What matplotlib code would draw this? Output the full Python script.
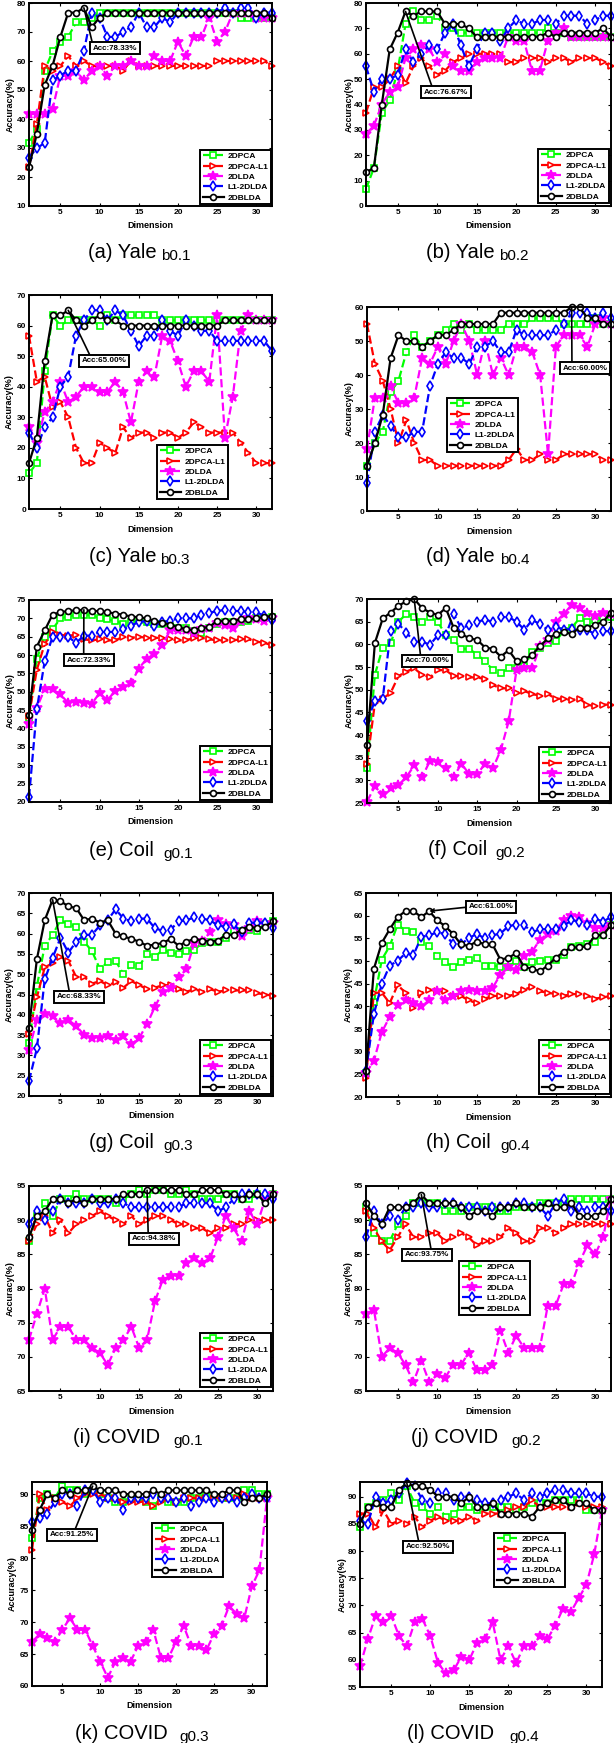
import numpy as np
import matplotlib
matplotlib.use('Agg')
import matplotlib.pyplot as plt

plt.rcParams['font.family'] = ['Liberation Sans', 'DejaVu Sans']
plt.rcParams['font.weight'] = 'bold'

dims = list(range(1, 33))
methods = ['2DPCA', '2DPCA-L1', '2DLDA', 'L1-2DLDA', '2DBLDA']

# (a) Yale b0.1
yale1_pca = [31.7, 36.7, 56.7, 63.3, 66.7, 68.3, 73.3, 73.3, 75.0, 76.7, 76.7, 76.7, 76.7, 76.7, 76.7, 76.7,
             76.7, 76.7, 76.7, 76.7, 76.7, 76.7, 76.7, 76.7, 76.7, 76.7, 76.7, 75.0, 75.0, 75.0, 75.0, 75.0]
yale1_pcal1 = [23.3, 38.3, 58.3, 56.7, 58.3, 61.7, 58.3, 60.0, 58.3, 58.3, 58.3, 58.3, 56.7, 60.0, 58.3, 58.3,
               58.3, 58.3, 58.3, 58.3, 58.3, 58.3, 58.3, 58.3, 60.0, 60.0, 60.0, 60.0, 60.0, 60.0, 60.0, 58.3]
yale1_lda = [41.7, 41.7, 41.7, 43.3, 55.0, 55.0, 56.7, 53.3, 56.7, 58.3, 55.0, 58.3, 58.3, 60.0, 58.3, 58.3,
             61.7, 60.0, 60.0, 66.7, 61.7, 68.3, 68.3, 75.0, 66.7, 70.0, 76.7, 76.7, 76.7, 75.0, 75.0, 75.0]
yale1_l1lda = [26.7, 30.0, 31.7, 53.3, 55.0, 56.7, 56.7, 63.3, 76.7, 75.0, 68.3, 68.3, 70.0, 71.7, 76.7, 71.7,
               71.7, 75.0, 73.3, 76.7, 76.7, 76.7, 76.7, 76.7, 76.7, 78.3, 76.7, 78.3, 78.3, 75.0, 76.7, 76.7]
yale1_blda = [23.3, 35.0, 51.7, 58.3, 68.3, 76.67, 76.67, 78.33, 71.7, 75.0, 76.67, 76.67, 76.67, 76.67, 76.67, 76.67,
              76.67, 76.67, 76.67, 76.67, 76.67, 76.67, 76.67, 76.67, 76.67, 76.67, 76.67, 76.67, 76.67, 76.67, 76.67, 75.0]

# (b) Yale b0.2
yale2_pca = [6.7, 15.0, 36.7, 41.7, 53.3, 71.7, 76.7, 73.3, 73.3, 75.0, 70.0, 70.0, 68.3, 68.3, 68.3, 68.3,
             68.3, 68.3, 68.3, 68.3, 68.3, 68.3, 68.3, 70.0, 68.3, 68.3, 66.7, 66.7, 66.7, 66.7, 66.7, 66.7]
yale2_pcal1 = [36.7, 46.7, 46.7, 50.0, 55.0, 48.3, 55.0, 58.3, 55.0, 51.7, 53.3, 56.7, 58.3, 60.0, 60.0, 60.0,
               60.0, 60.0, 56.7, 56.7, 58.3, 58.3, 58.3, 56.7, 58.3, 58.3, 56.7, 58.3, 58.3, 58.3, 56.7, 55.0]
yale2_lda = [28.3, 31.7, 40.0, 45.0, 46.7, 58.3, 61.7, 63.3, 61.7, 56.7, 60.0, 55.0, 53.3, 53.3, 56.7, 58.3,
             58.3, 58.3, 66.7, 65.0, 65.0, 53.3, 53.3, 65.0, 68.3, 70.0, 66.7, 66.7, 66.7, 66.7, 66.7, 66.7]
yale2_l1lda = [55.0, 45.0, 50.0, 50.0, 51.7, 61.7, 56.7, 60.0, 63.3, 61.7, 68.3, 71.7, 63.3, 55.0, 61.7, 68.3,
               68.3, 65.0, 70.0, 73.3, 71.7, 71.7, 73.3, 73.3, 71.7, 75.0, 75.0, 75.0, 71.7, 73.3, 75.0, 75.0]
yale2_blda = [13.3, 15.0, 40.0, 61.7, 68.3, 76.67, 75.0, 76.67, 76.67, 76.67, 71.7, 71.7, 71.7, 70.0, 66.7, 66.7,
              66.7, 66.7, 66.7, 66.7, 66.7, 66.7, 66.7, 68.3, 66.7, 68.3, 68.3, 68.3, 68.3, 68.3, 70.0, 66.7]

# (c) Yale b0.3
yale3_pca = [11.7, 15.0, 45.0, 63.3, 60.0, 61.7, 61.7, 61.7, 61.7, 60.0, 63.3, 61.7, 63.3, 63.3, 63.3, 63.3,
             63.3, 61.7, 61.7, 61.7, 61.7, 61.7, 61.7, 61.7, 61.7, 61.7, 61.7, 61.7, 61.7, 61.7, 61.7, 61.7]
yale3_pcal1 = [56.7, 41.7, 43.3, 33.3, 35.0, 30.0, 20.0, 15.0, 15.0, 21.7, 20.0, 18.3, 26.7, 23.3, 25.0, 25.0,
               23.3, 25.0, 25.0, 23.3, 25.0, 28.3, 26.7, 25.0, 25.0, 25.0, 25.0, 21.7, 18.3, 15.0, 15.0, 15.0]
yale3_lda = [26.7, 21.7, 31.7, 35.0, 41.7, 35.0, 36.7, 40.0, 40.0, 38.3, 38.3, 41.7, 38.3, 28.3, 41.7, 45.0,
             43.3, 56.7, 55.0, 48.3, 40.0, 45.0, 45.0, 41.7, 63.3, 23.3, 36.7, 58.3, 63.3, 61.7, 61.7, 61.7]
yale3_l1lda = [25.0, 20.0, 26.7, 30.0, 40.0, 43.3, 56.7, 61.7, 65.0, 65.0, 61.7, 65.0, 63.3, 58.3, 53.3, 56.7,
               56.7, 61.7, 58.3, 56.7, 61.7, 60.0, 58.3, 58.3, 55.0, 55.0, 55.0, 55.0, 55.0, 55.0, 55.0, 51.7]
yale3_blda = [15.0, 23.3, 48.3, 63.3, 63.3, 65.0, 61.7, 60.0, 61.7, 63.3, 61.7, 61.7, 60.0, 60.0, 60.0, 60.0,
              60.0, 60.0, 60.0, 60.0, 60.0, 60.0, 60.0, 60.0, 60.0, 61.7, 61.7, 61.7, 61.7, 61.7, 61.7, 61.7]

# (d) Yale b0.4
yale4_pca = [13.3, 20.0, 23.3, 35.0, 38.3, 46.7, 51.7, 48.3, 50.0, 51.7, 53.3, 55.0, 53.3, 55.0, 53.3, 53.3,
             53.3, 53.3, 55.0, 55.0, 55.0, 56.7, 56.7, 56.7, 56.7, 55.0, 55.0, 55.0, 55.0, 56.7, 55.0, 55.0]
yale4_pcal1 = [55.0, 43.3, 38.3, 30.0, 20.0, 26.7, 20.0, 15.0, 15.0, 13.3, 13.3, 13.3, 13.3, 13.3, 13.3, 13.3,
               13.3, 13.3, 15.0, 18.3, 15.0, 15.0, 16.7, 15.0, 15.0, 16.7, 16.7, 16.7, 16.7, 16.7, 15.0, 15.0]
yale4_lda = [18.3, 33.3, 33.3, 36.7, 31.7, 31.7, 33.3, 45.0, 43.3, 48.3, 43.3, 50.0, 55.0, 50.0, 40.0, 50.0,
             40.0, 45.0, 40.0, 48.3, 48.3, 46.7, 40.0, 16.7, 48.3, 51.7, 51.7, 51.7, 48.3, 55.0, 56.7, 55.0]
yale4_l1lda = [8.3, 23.3, 28.3, 25.0, 21.7, 21.7, 23.3, 23.3, 36.7, 43.3, 46.7, 45.0, 45.0, 43.3, 48.3, 48.3,
               50.0, 46.7, 46.7, 53.3, 51.7, 51.7, 51.7, 51.7, 53.3, 55.0, 58.3, 58.3, 58.3, 56.7, 58.3, 56.7]
yale4_blda = [13.3, 20.0, 28.3, 45.0, 51.7, 50.0, 50.0, 48.3, 50.0, 51.7, 51.7, 53.3, 55.0, 55.0, 55.0, 55.0,
              55.0, 58.3, 58.3, 58.3, 58.3, 58.3, 58.3, 58.3, 58.3, 58.3, 60.0, 60.0, 56.7, 56.7, 55.0, 55.0]

# (e) Coil g0.1
coil1_pca = [43.0, 59.0, 65.0, 67.0, 70.0, 70.5, 71.0, 71.0, 71.0, 70.0, 69.7, 69.3, 68.5, 69.0, 69.5, 69.0,
             68.5, 68.5, 68.0, 67.5, 67.3, 66.5, 66.0, 67.3, 68.5, 69.0, 69.0, 69.0, 69.3, 70.0, 70.2, 70.5]
coil1_pcal1 = [43.5, 56.0, 63.0, 66.3, 65.5, 65.3, 65.5, 64.3, 64.0, 64.3, 64.0, 64.0, 65.0, 64.7, 65.0, 64.7,
               64.7, 64.7, 64.3, 64.0, 64.0, 64.7, 64.7, 64.3, 64.0, 64.0, 64.0, 64.3, 64.3, 63.7, 63.3, 62.7]
coil1_lda = [41.3, 45.7, 50.7, 50.7, 49.3, 47.0, 47.3, 47.0, 46.7, 49.7, 47.7, 50.3, 51.3, 52.3, 56.3, 59.0,
             60.3, 62.7, 66.7, 66.7, 66.7, 66.0, 67.0, 67.3, 68.7, 68.3, 67.3, 69.3, 70.0, 69.7, 69.3, 70.0]
coil1_l1lda = [21.3, 45.3, 58.3, 65.0, 65.0, 65.0, 63.3, 65.3, 65.3, 66.3, 66.3, 66.3, 67.0, 68.0, 69.0, 69.3,
               68.0, 69.0, 69.3, 70.0, 70.0, 70.0, 71.0, 71.5, 72.0, 72.3, 72.0, 72.0, 71.7, 71.7, 70.7, 69.5]
coil1_blda = [43.7, 62.3, 66.7, 71.0, 71.7, 72.0, 72.2, 72.33, 72.0, 72.0, 71.7, 71.3, 71.0, 70.5, 70.3, 70.0,
              69.3, 68.8, 68.3, 67.7, 67.0, 66.8, 67.3, 67.7, 69.3, 69.3, 69.3, 69.7, 69.7, 70.0, 70.3, 70.7]

# (f) Coil g0.2
coil2_pca = [32.7, 53.3, 59.3, 60.3, 65.0, 66.7, 66.0, 65.0, 66.0, 65.0, 62.0, 61.0, 59.0, 59.0, 57.7, 56.3,
             54.3, 53.7, 54.7, 54.7, 55.3, 58.3, 59.3, 60.3, 60.7, 63.0, 63.7, 65.7, 65.0, 65.3, 65.7, 66.0]
coil2_pcal1 = [33.7, 47.0, 48.0, 49.3, 53.0, 54.0, 54.7, 53.3, 52.7, 54.3, 54.3, 53.0, 53.0, 52.7, 52.7, 52.3,
               51.0, 50.3, 50.3, 49.3, 49.7, 49.0, 48.7, 49.0, 48.0, 48.0, 47.7, 48.0, 46.7, 46.3, 46.7, 46.7]
coil2_lda = [25.3, 28.7, 27.0, 28.3, 29.0, 30.7, 33.3, 30.7, 34.3, 34.0, 32.7, 30.7, 33.7, 31.3, 31.3, 33.7,
             32.7, 36.7, 43.0, 54.3, 54.7, 54.7, 59.7, 61.0, 65.0, 66.7, 68.7, 68.0, 67.0, 66.3, 67.0, 66.7]
coil2_l1lda = [43.0, 47.5, 48.0, 63.0, 64.5, 62.6, 60.6, 60.6, 59.9, 62.0, 62.0, 66.7, 63.5, 64.3, 65.0, 65.4,
               65.0, 66.0, 66.0, 65.0, 63.2, 65.4, 64.4, 63.2, 63.9, 63.2, 63.4, 63.2, 63.2, 62.2, 62.9, 62.9]
coil2_blda = [37.7, 60.3, 65.7, 67.0, 68.5, 69.5, 70.0, 68.0, 67.0, 66.5, 68.0, 63.7, 62.3, 61.3, 61.0, 59.3,
              59.0, 57.3, 58.7, 56.3, 56.7, 57.7, 59.7, 61.3, 62.3, 62.7, 62.3, 63.7, 63.7, 64.3, 65.0, 67.0]

# (g) Coil g0.3
coil3_pca = [33.0, 47.0, 57.0, 59.7, 63.3, 62.3, 61.7, 58.0, 55.7, 51.3, 53.0, 53.3, 50.0, 52.3, 52.0, 55.0,
             54.3, 56.0, 55.3, 55.0, 55.7, 56.0, 57.7, 58.0, 58.0, 59.0, 60.7, 60.7, 61.0, 60.7, 62.3, 63.0]
coil3_pcal1 = [35.3, 44.3, 51.7, 52.7, 54.3, 53.3, 49.3, 49.3, 47.7, 48.3, 47.3, 48.0, 46.7, 48.3, 47.3, 46.3,
               46.7, 47.3, 47.3, 46.3, 45.7, 46.3, 45.7, 46.3, 45.7, 46.0, 46.0, 46.0, 46.0, 45.3, 45.0, 44.7]
coil3_lda = [31.3, 38.7, 40.3, 39.7, 38.0, 38.7, 37.3, 35.0, 34.3, 34.3, 34.7, 33.7, 34.7, 32.7, 34.3, 37.7,
             42.0, 45.7, 46.7, 49.3, 51.3, 57.7, 58.3, 60.3, 63.3, 62.3, 62.0, 59.3, 61.3, 63.0, 62.3, 62.7]
coil3_l1lda = [23.7, 31.7, 48.7, 54.0, 59.0, 55.3, 58.0, 59.7, 59.7, 62.0, 63.3, 66.0, 63.7, 63.0, 63.7, 63.7,
               61.3, 60.7, 61.0, 63.0, 63.3, 64.0, 63.7, 63.3, 62.0, 61.7, 62.3, 60.3, 62.7, 62.7, 62.7, 61.3]
coil3_blda = [36.7, 53.7, 63.3, 68.33, 68.0, 66.7, 66.3, 63.3, 63.7, 62.7, 63.3, 60.0, 59.3, 58.7, 58.0, 57.0,
              57.3, 57.7, 58.7, 57.0, 58.0, 58.7, 58.3, 58.0, 58.3, 59.7, 59.7, 61.0, 61.7, 61.3, 61.7, 63.0]

# (h) Coil g0.4
coil4_pca = [25.3, 41.0, 50.3, 53.3, 58.0, 56.7, 56.3, 54.3, 53.3, 51.0, 49.7, 48.7, 49.7, 50.3, 50.7, 49.0,
             49.0, 48.7, 48.7, 50.0, 48.7, 49.7, 50.0, 50.3, 50.3, 51.3, 53.0, 53.3, 53.7, 54.3, 55.7, 58.0]
coil4_pcal1 = [24.3, 43.0, 43.0, 40.7, 44.7, 43.0, 39.7, 43.0, 43.7, 43.3, 43.3, 42.3, 42.3, 41.3, 40.7, 41.7,
               42.3, 42.3, 42.3, 42.7, 43.7, 44.3, 43.3, 43.0, 42.7, 42.3, 42.7, 42.7, 42.3, 41.7, 42.0, 42.3]
coil4_lda = [25.3, 28.0, 34.3, 37.7, 40.3, 41.3, 40.7, 40.0, 41.3, 43.3, 41.3, 42.3, 43.3, 43.7, 43.3, 43.3,
             44.0, 47.0, 48.7, 48.0, 51.0, 52.0, 54.7, 56.0, 56.7, 59.0, 60.0, 59.7, 58.3, 57.3, 57.3, 58.0]
coil4_l1lda = [25.7, 38.3, 45.0, 49.0, 50.0, 51.7, 51.3, 55.3, 55.7, 56.3, 56.0, 53.7, 53.7, 55.0, 56.0, 55.0,
               55.7, 56.0, 57.7, 58.0, 58.0, 56.3, 57.0, 57.0, 57.0, 57.7, 59.0, 58.7, 58.0, 59.3, 58.7, 59.7]
coil4_blda = [25.7, 48.3, 54.0, 57.0, 59.7, 61.0, 61.0, 59.7, 61.0, 59.0, 57.7, 56.0, 53.7, 53.3, 54.3, 53.7,
              53.7, 50.3, 50.7, 51.7, 48.7, 48.3, 47.7, 49.0, 50.7, 52.0, 53.0, 53.0, 53.3, 55.7, 55.7, 58.0]

# (i) COVID g0.1
covid1_pca = [87.0, 90.6, 92.5, 90.6, 93.1, 93.1, 93.8, 93.1, 93.1, 93.1, 93.1, 92.5, 93.1, 93.8, 94.4, 93.8,
              94.4, 94.4, 93.8, 93.8, 94.4, 93.8, 93.1, 93.1, 93.1, 93.8, 93.8, 93.1, 93.1, 93.8, 93.1, 93.8]
covid1_pcal1 = [86.9, 89.4, 90.6, 88.1, 90.0, 88.1, 89.4, 90.0, 90.6, 91.3, 90.6, 90.0, 89.4, 90.6, 89.4, 90.0,
                90.6, 90.6, 90.0, 89.4, 89.4, 88.8, 88.8, 88.1, 88.8, 88.8, 89.4, 89.4, 90.0, 90.0, 90.0, 90.0]
covid1_lda = [72.5, 76.3, 80.0, 72.5, 74.4, 74.4, 72.5, 72.5, 71.3, 70.6, 68.8, 71.3, 72.5, 74.4, 71.3, 72.5,
              78.1, 81.3, 81.9, 81.9, 83.8, 84.4, 83.8, 84.4, 87.5, 90.6, 88.8, 86.9, 91.3, 89.4, 93.1, 93.8]
covid1_l1lda = [89.4, 91.3, 90.0, 91.3, 93.1, 92.5, 92.5, 92.5, 93.1, 92.5, 92.5, 93.1, 92.5, 91.9, 91.9, 91.9,
                91.9, 91.9, 91.9, 91.9, 92.5, 92.5, 92.5, 92.5, 91.3, 91.9, 93.1, 93.8, 93.8, 93.8, 93.8, 93.1]
covid1_blda = [87.5, 90.6, 91.3, 93.1, 93.1, 92.5, 93.1, 92.5, 93.1, 93.1, 93.1, 93.1, 93.8, 93.8, 93.8, 94.38,
               94.38, 94.38, 94.38, 94.38, 93.8, 93.8, 94.38, 94.38, 94.38, 93.8, 93.8, 93.1, 93.8, 93.8, 92.5, 93.8]

# (j) COVID g0.2
covid2_pca = [91.9, 88.1, 86.9, 86.9, 89.4, 90.6, 92.5, 92.5, 92.5, 92.5, 91.3, 91.3, 91.3, 91.9, 91.9, 91.9,
              91.9, 91.3, 91.3, 91.9, 91.9, 91.9, 92.5, 92.5, 92.5, 92.5, 93.1, 93.1, 93.1, 93.1, 93.1, 93.1]
covid2_pcal1 = [91.3, 88.8, 86.9, 85.6, 87.5, 89.4, 87.5, 87.5, 88.1, 88.1, 86.9, 87.5, 88.1, 87.5, 86.3, 86.9,
                86.9, 87.5, 88.8, 88.1, 86.9, 86.9, 88.8, 88.8, 88.1, 88.8, 89.4, 89.4, 89.4, 89.4, 89.4, 89.4]
covid2_lda = [76.3, 76.9, 70.0, 71.3, 70.6, 68.8, 66.3, 69.4, 66.3, 67.5, 66.9, 68.8, 68.8, 70.6, 68.1, 68.1,
              68.8, 73.8, 70.6, 73.1, 71.3, 71.3, 71.3, 77.5, 77.5, 80.6, 80.6, 83.8, 86.3, 85.0, 87.5, 93.1]
covid2_l1lda = [87.5, 91.3, 89.4, 90.6, 90.0, 91.9, 91.9, 92.5, 91.9, 91.9, 92.5, 92.5, 91.9, 91.9, 91.9, 91.3,
                91.9, 91.9, 91.9, 92.5, 92.5, 91.9, 91.9, 90.6, 92.5, 93.1, 91.3, 91.9, 91.3, 91.9, 91.9, 91.3]
covid2_blda = [92.5, 90.6, 89.4, 91.9, 91.9, 91.9, 92.5, 93.75, 92.5, 92.5, 92.5, 92.5, 91.9, 90.6, 91.3, 91.3,
               90.6, 91.9, 91.9, 92.5, 91.9, 91.9, 91.9, 92.5, 91.9, 91.9, 92.5, 90.6, 90.6, 90.6, 91.3, 93.1]

# (k) COVID g0.3
covid3_pca = [83.1, 89.4, 90.0, 89.4, 91.3, 90.6, 90.6, 90.0, 90.6, 90.0, 89.4, 88.8, 88.8, 89.4, 89.4, 88.8,
              88.1, 89.4, 88.8, 88.8, 88.8, 89.4, 89.4, 90.0, 89.4, 89.4, 89.4, 89.4, 90.6, 90.6, 90.0, 90.0]
covid3_pcal1 = [81.3, 90.0, 87.5, 89.4, 88.8, 88.1, 89.4, 90.0, 90.0, 90.0, 89.4, 89.4, 88.8, 88.8, 88.8, 88.8,
                88.1, 88.8, 89.4, 88.8, 89.4, 89.4, 89.4, 89.4, 89.4, 89.4, 89.4, 89.4, 90.0, 89.4, 89.4, 89.4]
covid3_lda = [66.9, 68.1, 67.5, 66.9, 68.8, 70.6, 68.8, 68.8, 66.3, 63.8, 61.3, 63.8, 64.4, 63.8, 66.3, 66.9,
              68.8, 64.4, 64.4, 66.9, 69.4, 66.3, 66.3, 65.6, 68.1, 69.4, 72.5, 71.3, 70.6, 75.6, 78.1, 89.4]
covid3_l1lda = [85.6, 86.3, 86.9, 88.8, 90.0, 90.0, 88.1, 90.6, 90.6, 88.8, 89.4, 89.4, 87.5, 89.4, 89.4, 89.4,
                90.0, 89.4, 89.4, 88.8, 89.4, 88.1, 88.8, 89.4, 88.8, 89.4, 89.4, 88.8, 89.4, 90.0, 89.4, 89.4]
covid3_blda = [84.4, 87.5, 90.0, 89.4, 90.6, 90.0, 90.6, 90.6, 91.25, 90.6, 90.6, 90.6, 90.0, 90.0, 90.0, 90.0,
               90.6, 90.0, 90.6, 90.6, 90.6, 90.6, 90.6, 90.6, 90.0, 90.0, 90.6, 90.6, 88.8, 89.4, 89.4, 90.0]

# (l) COVID g0.4
covid4_pca = [84.4, 88.1, 88.8, 89.4, 90.6, 89.4, 91.9, 88.8, 88.1, 86.9, 88.1, 86.3, 86.9, 88.1, 88.1, 87.5,
              88.1, 88.1, 88.1, 88.1, 87.5, 88.1, 88.8, 88.8, 88.8, 89.4, 89.4, 89.4, 89.4, 87.5, 87.5, 87.5]
covid4_pcal1 = [86.9, 86.9, 84.4, 87.5, 85.0, 85.6, 85.0, 86.3, 84.4, 85.6, 86.3, 85.6, 85.6, 85.6, 86.3, 85.6,
                86.9, 86.9, 86.9, 87.5, 88.1, 88.1, 89.4, 88.1, 88.1, 88.1, 88.1, 88.1, 88.8, 88.1, 88.1, 88.1]
covid4_lda = [58.8, 63.8, 68.1, 66.9, 68.1, 64.4, 62.5, 66.9, 67.5, 64.4, 59.4, 57.5, 58.1, 60.6, 60.0, 63.1,
              63.8, 66.9, 60.0, 62.5, 59.4, 62.5, 62.5, 64.4, 63.8, 66.3, 69.4, 68.8, 71.3, 73.8, 79.4, 87.5]
covid4_l1lda = [85.6, 85.0, 90.0, 88.8, 89.4, 90.6, 92.5, 91.9, 89.4, 88.8, 90.6, 90.6, 89.4, 90.0, 90.0, 89.4,
                88.8, 88.8, 89.4, 90.0, 90.6, 89.4, 90.6, 90.0, 90.6, 91.3, 91.3, 90.6, 90.6, 90.6, 90.0, 90.0]
covid4_blda = [85.0, 88.1, 88.8, 88.1, 88.1, 91.3, 92.5, 91.9, 91.9, 91.3, 90.0, 90.0, 90.0, 88.8, 90.0, 88.1,
               88.1, 88.8, 86.9, 86.9, 86.9, 86.9, 86.3, 88.1, 88.8, 89.4, 89.4, 88.1, 88.8, 88.8, 87.5, 87.5]

peak_dims = [8, 6, 6, 27, 8, 7, 4, 9, 16, 8, 9, 7]
peak_text = ['78.33', '76.67', '65.00', '60.00', '72.33', '70.00', '68.33', '61.00', '94.38', '93.75', '91.25', '92.50']
cap_main = ['(a) Yale', '(b) Yale', '(c) Yale', '(d) Yale', '(e) Coil', '(f) Coil',
            '(g) Coil', '(h) Coil', '(i) COVID', '(j) COVID', '(k) COVID', '(l) COVID']
cap_sub = ['b0.1', 'b0.2', 'b0.3', 'b0.4', 'g0.1', 'g0.2', 'g0.3', 'g0.4', 'g0.1', 'g0.2', 'g0.3', 'g0.4']

series = [
    [yale1_pca, yale1_pcal1, yale1_lda, yale1_l1lda, yale1_blda],
    [yale2_pca, yale2_pcal1, yale2_lda, yale2_l1lda, yale2_blda],
    [yale3_pca, yale3_pcal1, yale3_lda, yale3_l1lda, yale3_blda],
    [yale4_pca, yale4_pcal1, yale4_lda, yale4_l1lda, yale4_blda],
    [coil1_pca, coil1_pcal1, coil1_lda, coil1_l1lda, coil1_blda],
    [coil2_pca, coil2_pcal1, coil2_lda, coil2_l1lda, coil2_blda],
    [coil3_pca, coil3_pcal1, coil3_lda, coil3_l1lda, coil3_blda],
    [coil4_pca, coil4_pcal1, coil4_lda, coil4_l1lda, coil4_blda],
    [covid1_pca, covid1_pcal1, covid1_lda, covid1_l1lda, covid1_blda],
    [covid2_pca, covid2_pcal1, covid2_lda, covid2_l1lda, covid2_blda],
    [covid3_pca, covid3_pcal1, covid3_lda, covid3_l1lda, covid3_blda],
    [covid4_pca, covid4_pcal1, covid4_lda, covid4_l1lda, covid4_blda],
]

# layout in pixels: axes box (l, t, r, b), y range, y step, legend top-left,
# annotation box centre, arrow start on box, ylabel x, caption x, gap before subscript, caption baseline
layout = [
    ((29, 3, 272, 206), (10, 80), 10, (200, 150), (115, 48), (0.0, 1.0), 10, 88, 4, 258),
    ((366, 3, 611, 206), (0, 80), 10, (538, 149), (446, 92), (0.2, 1.0), 349, 426, 4, 258),
    ((29, 295, 272, 509), (0, 70), 10, (157, 445), (104, 361), (0.21, 1.0), 9, 89, 4, 562),
    ((367, 307, 611, 511), (0, 60), 10, (447, 398), (585, 368), (0.21, 1.0), 349, 426, 5, 562),
    ((29, 600, 272, 802), (20, 75), 5, (200, 746), (89, 660), (0.38, 1.0), 10, 89, 10, 856),
    ((367, 599, 611, 803), (25, 70), 5, (539, 747), (427, 661), (0.36, 1.0), 349, 428, 8, 855),
    ((29, 893, 273, 1096), (20, 70), 5, (200, 1040), (79, 997), (0.29, 1.0), 9, 89, 10, 1148),
    ((366, 893, 611, 1097), (20, 65), 5, (539, 1040), (491, 907), (0.0, 0.5), 348, 426, 10, 1148),
    ((29, 1186, 273, 1391), (65, 95), 5, (200, 1333), (154, 1239), (0.37, 1.0), 10, 73, 13, 1443),
    ((366, 1186, 611, 1391), (65, 95), 5, (459, 1261), (427, 1255), (0.6, 1.0), 348, 411, 13, 1443),
    ((32, 1482, 267, 1686), (60, 91.9), 5, (152, 1523), (72, 1535), (0.55, 1.0), 12, 75, 12, 1739),
    ((360, 1482, 602, 1687), (55, 92.7), 5, (494, 1533), (428, 1547), (0.3, 1.0), 342, 407, 15, 1739),
]

styles = [
    dict(color='#00ff00', ls='--', marker='s', ms=3.9, mfc='white'),
    dict(color='#ff0000', ls='--', marker='>', ms=4.8, mfc='white'),
    dict(color='#ff00ff', ls='--', marker='*', ms=7.5, mfc='#ff00ff'),
    dict(color='#0000ff', ls='--', marker='d', ms=5.3, mfc='white'),
    dict(color='black', ls='-', marker='o', ms=4.3, mfc='white'),
]

W, H = 614, 1743
fig = plt.figure(figsize=(W / 100, H / 100), dpi=100)
renderer = fig.canvas.get_renderer()

for k in range(12):
    (l, t, r, b), ylim, ystep, (lx, ly), (ax_c, ay_c), rel, ylx, cx, gap, base = layout[k]
    ax = fig.add_axes([l / W, 1 - b / H, (r - l) / W, (b - t) / H])
    for vals, st, name in zip(series[k], styles, methods):
        ax.plot(dims, vals, label=name, lw=1.6, mew=1.2, clip_on=False, **st)
    ax.set_xlim(1, 32)
    ax.set_ylim(*ylim)
    ax.set_xticks(range(5, 33, 5))
    ax.set_yticks(np.arange(ylim[0], ylim[1] + 0.01, ystep))
    ax.tick_params(direction='in', top=True, right=True, length=2.5, width=0.8, labelsize=6, pad=2)
    for sp in ax.spines.values():
        sp.set_linewidth(1.4)
    ax.text(0.5, -20 / (b - t), 'Dimension', transform=ax.transAxes, ha='center', va='center', fontsize=6.5)
    ax.text((ylx - l) / (r - l), 0.5, 'Accuracy(%)', transform=ax.transAxes, ha='center', va='center',
            rotation=90, fontsize=6.5)

    leg = ax.legend(loc='upper left', bbox_to_anchor=((lx - l) / (r - l), (b - ly) / (b - t)),
                    borderaxespad=0, fontsize=6, handlelength=2.6, handletextpad=0.4,
                    labelspacing=0.3, borderpad=0.3, fancybox=False, framealpha=1)
    leg.get_frame().set_edgecolor('black')
    leg.get_frame().set_linewidth(1.4)
    leg.set_zorder(20)

    px = peak_dims[k]
    py = series[k][4][px - 1]
    astyle = '->' if k == 7 else '-'
    ax.annotate('Acc:' + peak_text[k] + '%', xy=(px, py), xytext=(ax_c, H - ay_c), textcoords='figure pixels',
                ha='center', va='center', fontsize=5.8, zorder=25,
                bbox=dict(boxstyle='square,pad=0.3', fc='white', ec='black', lw=1.4),
                arrowprops=dict(arrowstyle=astyle, color='black', lw=1.2, shrinkA=0, shrinkB=0, relpos=rel))

    main = fig.text(cx / W, 1 - base / H, cap_main[k], ha='left', va='baseline', fontsize=14.5,
                    fontweight='normal')
    x_end = main.get_window_extent(renderer).x1
    fig.text((x_end + gap) / W, 1 - (base + 2) / H, cap_sub[k], ha='left', va='baseline', fontsize=11,
             fontweight='normal')

fig.savefig('out.png', dpi=100)
